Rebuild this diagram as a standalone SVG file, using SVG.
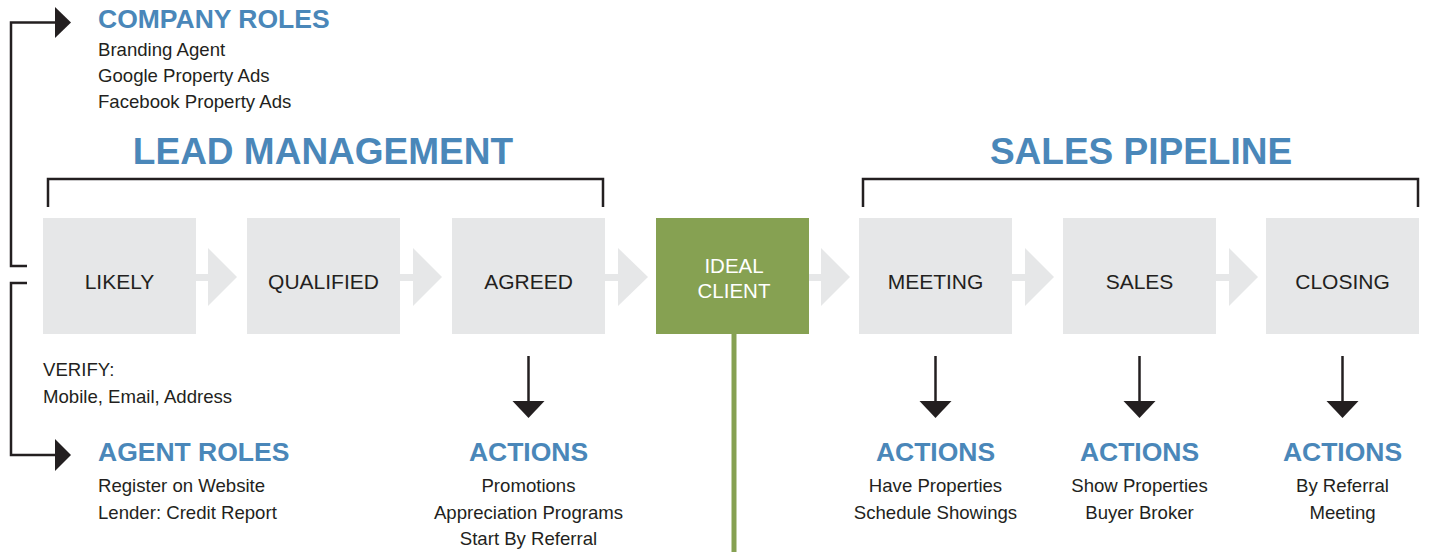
<svg xmlns="http://www.w3.org/2000/svg" width="1430" height="552" viewBox="0 0 1430 552">
<style>
.box{fill:#e6e7e8}
.green{fill:#86a152}
.flow{fill:#e6e7e8}
.lbl{font-family:"Liberation Sans",Arial,sans-serif;font-size:21px;fill:#231f20;text-anchor:middle}
.wlbl{font-family:"Liberation Sans",Arial,sans-serif;font-size:20.5px;fill:#ffffff;text-anchor:middle}
.big{font-family:"Liberation Sans",Arial,sans-serif;font-size:37px;font-weight:bold;fill:#4a87b9;text-anchor:middle}
.head{font-family:"Liberation Sans",Arial,sans-serif;font-size:26.5px;font-weight:bold;fill:#4a87b9}
.body{font-family:"Liberation Sans",Arial,sans-serif;font-size:18.6px;fill:#231f20}
.mid{text-anchor:middle}
.ln{fill:none;stroke:#231f20;stroke-width:2.5}
.ah{fill:#231f20}
</style>

<text class="big" x="323" y="164">LEAD MANAGEMENT</text>
<text class="big" x="1141" y="164">SALES PIPELINE</text>

<g id="connectors">
  <path class="ln" d="M48,207 V179 H603 V207"/>
  <path class="ln" d="M863,207 V179 H1418 V207"/>
  <g class="flow">
    <rect x="196" y="274" width="13" height="7"/><polygon points="208,248 237,277 208,306"/>
    <rect x="400" y="274" width="14" height="7"/><polygon points="413,248 442,277 413,306"/>
    <rect x="605" y="274" width="14" height="7"/><polygon points="618,248 648,277 618,306"/>
    <rect x="809" y="274" width="13" height="7"/><polygon points="821,248 850,277 821,306"/>
    <rect x="1012" y="274" width="14" height="7"/><polygon points="1025,248 1054,277 1025,306"/>
    <rect x="1216" y="274" width="14" height="7"/><polygon points="1229,248 1258,277 1229,306"/>
  </g>
  <rect x="731.5" y="334" width="5" height="218" fill="#86a152"/>
  <path class="ln" d="M27,266 H11 V22.5 H57"/>
  <polygon class="ah" points="55,7 71,22.5 55,38"/>
  <path class="ln" d="M27,283 H11 V455 H57"/>
  <polygon class="ah" points="55,439 71,455 55,471"/>
  <path class="ln" d="M528.5,356 V403"/>
  <polygon class="ah" points="512.5,401 544.5,401 528.5,418"/>
  <path class="ln" d="M935.5,356 V403"/>
  <polygon class="ah" points="919.5,401 951.5,401 935.5,418"/>
  <path class="ln" d="M1139.5,356 V403"/>
  <polygon class="ah" points="1123.5,401 1155.5,401 1139.5,418"/>
  <path class="ln" d="M1342.5,356 V403"/>
  <polygon class="ah" points="1326.5,401 1358.5,401 1342.5,418"/>
</g>

<g id="likely"><rect class="box" x="43" y="218" width="153" height="116"/><text class="lbl" x="119.5" y="289">LIKELY</text></g>
<g id="qualified"><rect class="box" x="247" y="218" width="153" height="116"/><text class="lbl" x="323.5" y="289">QUALIFIED</text></g>
<g id="agreed"><rect class="box" x="452" y="218" width="153" height="116"/><text class="lbl" x="528.5" y="289">AGREED</text></g>
<g id="ideal-client"><rect class="green" x="656" y="218" width="153" height="116"/><text class="wlbl" x="734" y="273">IDEAL</text><text class="wlbl" x="734" y="298">CLIENT</text></g>
<g id="meeting"><rect class="box" x="859" y="218" width="153" height="116"/><text class="lbl" x="935.5" y="289">MEETING</text></g>
<g id="sales"><rect class="box" x="1063" y="218" width="153" height="116"/><text class="lbl" x="1139.5" y="289">SALES</text></g>
<g id="closing"><rect class="box" x="1266" y="218" width="153" height="116"/><text class="lbl" x="1342.5" y="289">CLOSING</text></g>

<g id="company-roles">
  <text class="head" x="98" y="28">COMPANY ROLES</text>
  <text class="body" x="98" y="56">Branding Agent</text>
  <text class="body" x="98" y="82">Google Property Ads</text>
  <text class="body" x="98" y="108">Facebook Property Ads</text>
</g>
<g id="verify">
  <text class="body" x="43" y="376">VERIFY:</text>
  <text class="body" x="43" y="403">Mobile, Email, Address</text>
</g>
<g id="agent-roles">
  <text class="head" x="98" y="461">AGENT ROLES</text>
  <text class="body" x="98" y="492">Register on Website</text>
  <text class="body" x="98" y="519">Lender: Credit Report</text>
</g>
<g id="actions-agreed">
  <text class="head mid" x="528.5" y="461">ACTIONS</text>
  <text class="body mid" x="528.5" y="492">Promotions</text>
  <text class="body mid" x="528.5" y="519">Appreciation Programs</text>
  <text class="body mid" x="528.5" y="545">Start By Referral</text>
</g>
<g id="actions-meeting">
  <text class="head mid" x="935.5" y="461">ACTIONS</text>
  <text class="body mid" x="935.5" y="492">Have Properties</text>
  <text class="body mid" x="935.5" y="519">Schedule Showings</text>
</g>
<g id="actions-sales">
  <text class="head mid" x="1139.5" y="461">ACTIONS</text>
  <text class="body mid" x="1139.5" y="492">Show Properties</text>
  <text class="body mid" x="1139.5" y="519">Buyer Broker</text>
</g>
<g id="actions-closing">
  <text class="head mid" x="1342.5" y="461">ACTIONS</text>
  <text class="body mid" x="1342.5" y="492">By Referral</text>
  <text class="body mid" x="1342.5" y="519">Meeting</text>
</g>
</svg>
